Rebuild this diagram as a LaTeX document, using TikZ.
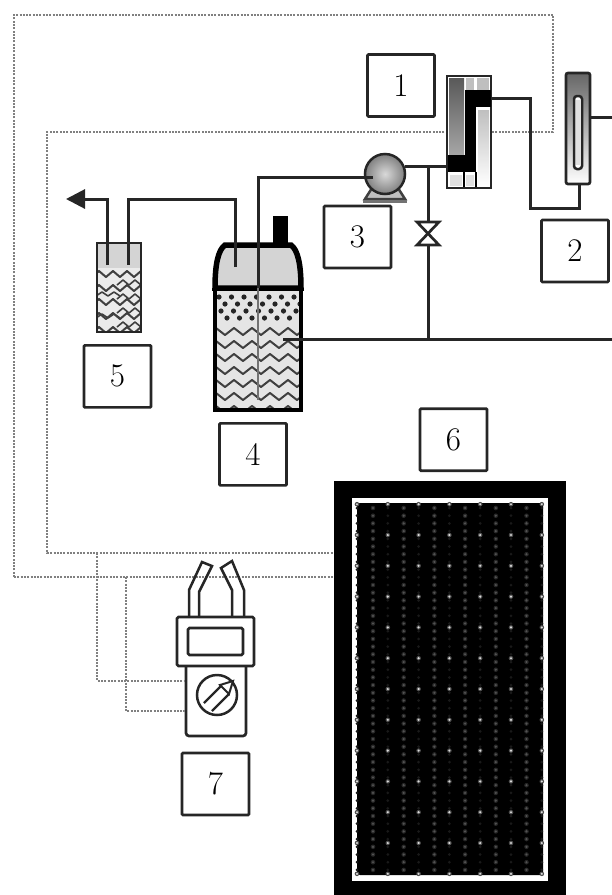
\documentclass[tikz,border=0pt]{standalone}
\usepackage{tikz}
\usetikzlibrary{positioning,arrows.meta}
\tikzset{
  lab/.style={rectangle,draw=black!85,line width=2.7pt,rounded corners=1pt,fill=white,minimum width=67pt,minimum height=62pt,inner sep=0pt,font=\fontsize{33}{33}\selectfont},
  pipe/.style={draw=black!85,line width=3pt},
  signal/.style={draw=black!50,line width=2.2pt,dash pattern=on 2pt off 1.3pt},
  wavy/.style={draw=black!75,line width=2pt,line join=round},
  solid box/.style={rectangle,minimum width=0pt,minimum height=0pt,inner sep=0pt,outer sep=0pt}
}
\begin{document}
\begin{tikzpicture}[x=1pt,y=-1pt]
\useasboundingbox (0,0) rectangle (612,895);
% signal wires
\coordinate (s1) at (14,15); \coordinate (s2) at (553,15); \coordinate (s3) at (553,132); \coordinate (s4) at (47,132);
\coordinate (s5) at (47,553); \coordinate (s6) at (14,577); \coordinate (b1) at (97,553); \coordinate (b2) at (126,577);
\node[solid box,fill=black,minimum width=232pt,minimum height=414pt] (panel) at (450,688) {};
\draw[signal] (s6)--(s1)--(s2)--(s3)--(s4)--(s5)--(s5-|panel.west);
\draw[signal] (s6)--(s6-|panel.west);
% solar panel
\fill[white] (352,498) rectangle (548,881);
\fill[black,rounded corners=3pt] (357,503) rectangle (543,875);
\foreach \c in {0,...,5}{\foreach \r in {0,...,47}{\fill[black!85] (373+30.7*\c,508+7.7*\r) circle (2.3pt); \fill[black!68] (373+30.7*\c,508+7.7*\r) circle (1.2pt);}}
\foreach \c in {0,...,6}{\foreach \r in {0,...,47}{\fill[black!90] (357+30.8*\c,508+7.7*\r) circle (1.5pt);}}
\foreach \c in {0,...,6}{\foreach \r in {-1,...,11}{\fill[black!70] (357+30.8*\c,535+30.8*\r) circle (2.3pt); \fill[white!85!black] (357+30.8*\c,535+30.8*\r) circle (1.2pt);}}
% battery
\node[solid box,draw=black,line width=3pt,fill=black!10,minimum width=86pt,minimum height=122pt] (bat) at (258,349) {};
\begin{scope}
\clip (bat.north west) rectangle (bat.south east);
\foreach \r/\o in {297/0,304/6,311/2,318/8}{\foreach \c in {0,...,6}{\fill[black!85] (219+\o+12.5*\c,\r) circle (2.6pt);}}
\foreach \r in {335,348,...,426}{\draw[wavy] (207,\r) \foreach \c in {0,...,5}{--++(9,-7)--++(9,7)};}
\end{scope}
\draw[black,line width=3.5pt] (bat.north west) rectangle (bat.south east);
\fill[black] (273,216) rectangle (288,244);
\draw[draw=black,line width=5.5pt,fill=black!17] (215,288) .. controls (215,265) and (218,250) .. (225,245)--(291,245) .. controls (298,250) and (301,265) .. (301,288)--cycle;
% bubbler
\node[solid box,draw=black!85,line width=2.7pt,fill=black!8,minimum width=44pt,minimum height=89pt] (bub) at (119,287.5) {};
\fill[black!17] (98,244) rectangle (140,268);
\begin{scope}
\clip (bub.north west) rectangle (bub.south east);
\foreach \r in {277,291,...,340}{\draw[wavy] (92,\r) \foreach \c in {0,...,3}{--++(7,-6)--++(7,6)};}
\foreach \r in {285,299,...,334}{\draw[wavy,line width=1.6pt] (117,\r) \foreach \c in {0,...,1}{--++(6,-5)--++(6,5)};}
\foreach \r in {296,318}{\draw[wavy,line width=1.6pt] (96,\r) \foreach \c in {0,...,1}{--++(6,-4)--++(6,4)};}
\end{scope}
\draw[draw=black!85,line width=2.7pt] (bub.north west) rectangle (bub.south east);
% flowmeter 1
\node[solid box,draw=black!85,line width=2.7pt,fill=white,minimum width=44pt,minimum height=112pt] (fm1) at (469,132) {};
\shade[top color=black!65,bottom color=black!35] (449,78) rectangle (464,155);
\fill[black!25] (466,78) rectangle (474,90);
\fill[black!25] (477,78) rectangle (489,90);
\fill[black] (465,90) rectangle (491,107);
\fill[black] (465,107) rectangle (476,155);
\fill[black] (448,155) rectangle (476,172);
\shade[top color=black!25,bottom color=white] (478,110) rectangle (489,186);
\fill[black!12] (450,175) rectangle (462,186);
\fill[black!12] (466,175) rectangle (474,186);
\draw[black,line width=1.5pt] (464,172)--(464,187) (476,172)--(476,187);
% flowmeter 2
\shade[draw=black!85,line width=2.7pt,rounded corners=2pt,top color=black!60,bottom color=white] (566,73) rectangle (590,184);
\node[solid box,minimum width=24pt,minimum height=111pt] (fm2) at (578,128.5) {};
\draw[black!85,line width=2.5pt,rounded corners=3pt,fill=white] (574,96) rectangle (582,169);
\fill[black!12] (576,100) rectangle (580,165);
% pump
\draw[black!75,line width=2.5pt,fill=black!25] (372,188)--(365,199)--(405,199)--(398,188);
\draw[black!55,line width=3pt] (363,201)--(407,201);
\shade[draw=black!85,line width=2.5pt,inner color=black!15,outer color=black!50] (385,174) circle (20pt);
\node[circle,minimum size=40pt,inner sep=0pt,outer sep=0pt] (pump) at (385,174) {};
% valve
\coordinate (vtop) at (428,222); \coordinate (vmid) at (428,233.5); \coordinate (vbot) at (428,245);
\draw[black!85,line width=2.7pt] (417,222)--(439,222)--(417,245)--(439,245)--cycle;
% pipes
\coordinate (j1) at (428,166); \coordinate (j2) at (428,339); \coordinate (e1) at (612,339); \coordinate (e2) at (612,117);
\coordinate (m1) at (530,98); \coordinate (m2) at (530,208); \coordinate (m3) at (579,208);
\coordinate (t1) at (373,177); \coordinate (t2) at (258,177); \coordinate (t3) at (258,400);
\coordinate (u1) at (235,199); \coordinate (u2) at (235,267); \coordinate (u3) at (128,199); \coordinate (u4) at (128,265);
\coordinate (w1) at (107,265); \coordinate (w2) at (107,199); \coordinate (w3) at (66,199);
\draw[pipe] (pump.east|-j1)--(j1-|fm1.west); \draw[pipe] (j1)--(vtop); \draw[pipe] (vbot)--(j2);
\draw[pipe] (283,339)--(e1); \draw[pipe] (fm2.east|-e2)--(e2);
\draw[pipe] (fm1.east|-m1)--(m1)--(m2)--(m3)--(fm2.south-|m3);
\draw[pipe] (t1)--(t2)--(t2|-bat.north); \draw[black!55,line width=2.5pt] (t2|-bat.north)--(t3);
\draw[pipe] (u2)--(u1)--(u3)--(u4);
\draw[pipe,-{Triangle[length=19pt,width=19pt]}] (w1)--(w2)--(w3);
% clamp meter
\node[solid box,draw=black!85,line width=2.7pt,rounded corners=1.5pt,minimum width=77pt,minimum height=49pt] (head) at (215.5,641.5) {};
\node[solid box,draw=black!85,line width=2.7pt,rounded corners=1.5pt,minimum width=55pt,minimum height=27pt] (disp) at (215.5,641.5) {};
\draw[draw=black!85,line width=2.7pt,rounded corners=3pt] (186,666)--(186,736)--(246,736)--(246,666);
\draw[black!85,line width=2.5pt] (189,616)--(189,590)--(202,562)--(212,566)--(199,592)--(199,616);
\draw[black!85,line width=2.5pt] (232,616)--(232,590)--(221,568)--(232,561)--(244,590)--(244,616);
\node[circle,draw=black!85,line width=2.5pt,minimum size=40pt,inner sep=0pt] (dial) at (217,695) {};
\draw[black!85,line width=2.2pt] (204,703)--(221,686) (212,711)--(229,694);
\draw[black!85,line width=2pt,fill=white] (233,681)--(220,685)--(229,694)--cycle;
% meter leads
\coordinate (c1) at (97,681); \coordinate (c2) at (126,711); \coordinate (m4) at (185,700);
\draw[signal] (b1)--(c1)--(c1-|m4);
\draw[signal] (b2)--(c2)--(c2-|m4);
% labels
\node[lab] (lab1) at (401,85.5) {1};
\node[lab] (lab2) at (575,251) {2};
\node[lab] (lab3) at (357.5,237) {3};
\node[lab,below=12pt of bat,xshift=-5pt] (lab4) {4};
\node[lab,below=12pt of bub,xshift=-1.5pt] (lab5) {5};
\node[lab,above=9pt of panel,xshift=3.5pt] (lab6) {6};
\node[lab] (lab7) at (215.5,784) {7};
\end{tikzpicture}
\end{document}
